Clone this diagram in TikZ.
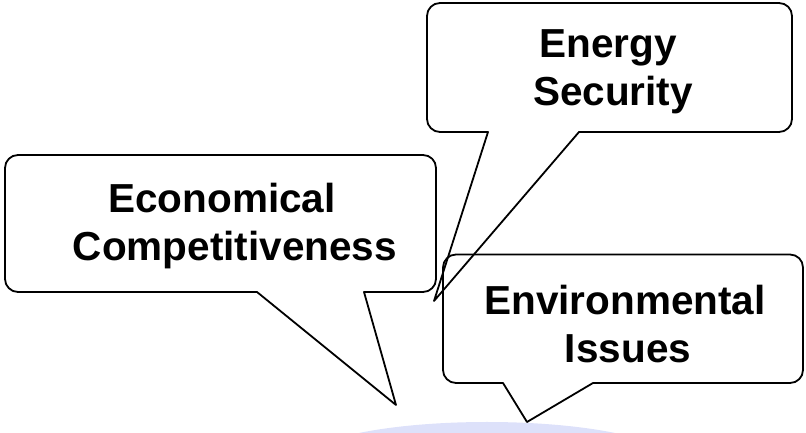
\documentclass[tikz,border=0pt]{standalone}
\usepackage{fontspec}
\setmainfont{Liberation Sans}
\definecolor{ellblue}{RGB}{221,225,250}
\tikzset{
  bubble/.style={draw=black, line width=1.8pt, line join=round},
  lbl/.style={font=\bfseries\fontsize{40.5}{48}\selectfont, anchor=base, inner sep=0pt},
}
% L B R T p1 p2 tipx tipy
\newcommand{\speechbubble}[8]{%
  \draw[bubble] (#5,#2) -- ({#1+13},#2)
    arc[start angle=270,end angle=180,radius=13pt] -- (#1,{#4-13})
    arc[start angle=180,end angle=90,radius=13pt] -- ({#3-13},#4)
    arc[start angle=90,end angle=0,radius=13pt] -- (#3,{#2+13})
    arc[start angle=0,end angle=-90,radius=13pt] -- (#6,#2) -- (#7,#8) -- cycle;}
\begin{document}
\begin{tikzpicture}[x=1pt,y=1pt]
  \useasboundingbox (0,0) rectangle (806,433);
  \clip (0,0) rectangle (806,433);
  \fill[ellblue] (487,-29) ellipse [x radius=186pt, y radius=40pt];
  % Economical Competitiveness
  \speechbubble{5}{141}{436}{278}{257}{364}{396}{28}
  % Energy Security
  \speechbubble{427}{301}{792}{430}{488}{579}{434}{132}
  % Environmental Issues
  \speechbubble{443}{50}{803}{178.5}{503}{593}{527}{11}
  \node[lbl] (eco1) at (222,220) {Economical};
  \node[lbl] (eco2) at (235,172) {Competitiveness};
  \node[lbl] (ene1) at (608,375) {Energy};
  \node[lbl] (ene2) at (613,327) {Security};
  \node[lbl] (env1) at (625,118) {Environmental};
  \node[lbl] (env2) at (628,70) {Issues};
\end{tikzpicture}
\end{document}
